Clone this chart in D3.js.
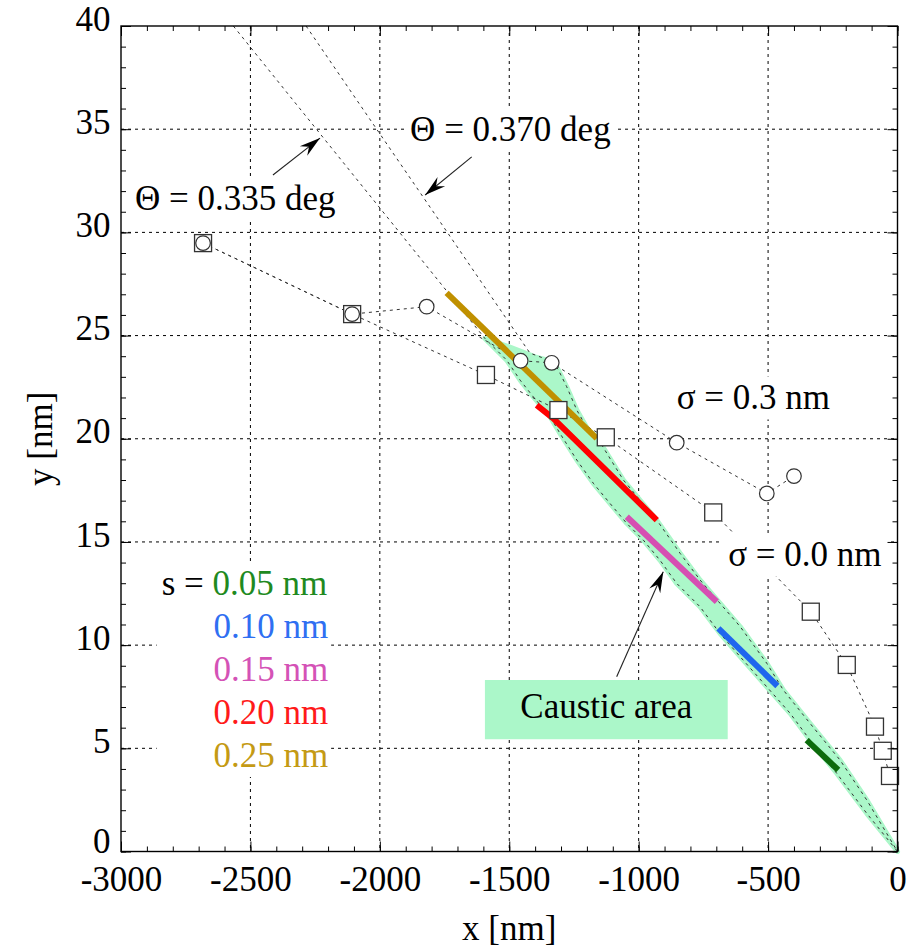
<!DOCTYPE html>
<html>
<head>
<meta charset="utf-8">
<script src="https://d3js.org/d3.v7.min.js"></script>
<style>
  body { margin: 0; background-color: #ffffff; }
</style>
</head>
<body>
<div id="chart"></div>
<script>
// ---- data ----
var xTickVals = [-3000, -2500, -2000, -1500, -1000, -500, 0];
var yTickVals = [0, 5, 10, 15, 20, 25, 30, 35, 40];

// sigma = 0.0 nm (open squares)
var sq0X = [-2683, -2107, -1590, -1310, -1127, -712, -335, -196, -87, -57, -29];
var sq0Y = [29.48, 26.04, 23.09, 21.39, 20.07, 16.43, 11.62, 9.04, 6.05, 4.88, 3.66];

// sigma = 0.3 nm (open circles)
var c3X = [-2683, -2107, -1819, -1456, -1336, -853, -505, -400];
var c3Y = [29.48, 26.04, 26.40, 23.78, 23.68, 19.81, 17.35, 18.19];

// trajectories for the two incidence angles (dashed)
var theta335 = [[-2566, 40.0], [-1594, 24.86], [-1510, 23.81], [-1458, 22.84], [-1407, 22.03], [-1342, 21.07],
  [-1304, 20.26], [-1239, 18.97], [-1175, 17.84], [-1111, 16.87], [-1046, 15.90], [-982, 15.09], [-918, 14.12],
  [-853, 12.99], [-763, 11.86], [-686, 10.57], [-608, 9.44], [-505, 7.98], [-415, 6.70], [-338, 5.40],
  [-235, 3.79], [-119, 1.85], [0, 0]];
var theta370 = [[-2285, 40.0], [-1420, 24.15], [-1330, 23.73], [-1310, 23.33], [-1278, 22.52], [-1239, 21.39],
  [-1195, 20.42], [-1162, 20.10], [-1111, 19.05], [-1059, 18.00], [-995, 17.03], [-930, 16.06], [-840, 14.45],
  [-763, 13.16], [-686, 12.03], [-608, 10.90], [-505, 9.12], [-441, 7.82], [-338, 6.21], [-222, 4.43],
  [-119, 2.50], [0, 0]];

// caustic area outline
var causticUpper = [[-1594, 24.86], [-1500, 24.45], [-1400, 23.97], [-1330, 23.73], [-1310, 23.33], [-1278, 22.52],
  [-1239, 21.39], [-1195, 20.42], [-1162, 20.10], [-1111, 19.05], [-1059, 18.00], [-995, 17.03], [-930, 16.06],
  [-840, 14.45], [-763, 13.16], [-686, 12.03], [-608, 10.90], [-505, 9.12], [-441, 7.82], [-338, 6.21],
  [-222, 4.43], [-119, 2.50], [0, 0]];
var causticLower = [[-1594, 24.86], [-1510, 23.81], [-1458, 22.84], [-1407, 22.03], [-1342, 21.07], [-1304, 20.26],
  [-1239, 18.97], [-1175, 17.84], [-1111, 16.87], [-1046, 15.90], [-982, 15.09], [-918, 14.12], [-853, 12.99],
  [-763, 11.86], [-686, 10.57], [-608, 9.44], [-505, 7.98], [-415, 6.70], [-338, 5.40], [-235, 3.79],
  [-119, 1.85], [0, 0]];

// s segments
var sLabels = ["0.05 nm", "0.10 nm", "0.15 nm", "0.20 nm", "0.25 nm"];
var sTextColors = ["#1f8a1f", "#2f6ff2", "#d452b6", "#ff1a1a", "#c49a14"];
var sLineColors = ["#0b6b0b", "#1f66ee", "#d64fb2", "#ff0000", "#c09000"];
var sSegments = [
  [[-351, 5.40], [-229, 3.95]],
  [[-692, 10.81], [-464, 8.02]],
  [[-1046, 16.22], [-698, 12.10]],
  [[-1394, 21.63], [-1330, 20.99], [-930, 16.06]],
  [[-1742, 27.07], [-1162, 20.02]]
];

// ---- chart ----
var width = 916, height = 949;
var serif = "'Liberation Serif', 'Times New Roman', Times, serif";
var svg = d3.select("#chart").append("svg")
  .attr("width", width)
  .attr("height", height)
  .attr("font-family", serif)
  .attr("font-size", 35);

var x = d3.scaleLinear().domain([-3000, 0]).range([121, 897.5]);
var y = d3.scaleLinear().domain([0, 40]).range([851.5, 26]);

var line = d3.line()
  .x(function(d) { return x(d[0]); })
  .y(function(d) { return y(d[1]); });

var defs = svg.append("defs");
defs.append("marker")
  .attr("id", "arrow")
  .attr("viewBox", "-22 -7 24 14")
  .attr("refX", 0).attr("refY", 0)
  .attr("markerWidth", 24).attr("markerHeight", 14)
  .attr("markerUnits", "userSpaceOnUse")
  .attr("orient", "auto")
  .append("path")
  .attr("d", "M0,0 L-21,-6 L-14,0 L-21,6 Z")
  .attr("fill", "#000");

// grid
var grid = svg.append("g");
grid.selectAll(".gx").data(xTickVals.slice(1, -1)).enter().append("line")
  .attr("x1", function(d) { return x(d); }).attr("x2", function(d) { return x(d); })
  .attr("y1", y(40)).attr("y2", y(0));
grid.selectAll(".gy").data(yTickVals.slice(1, -1)).enter().append("line")
  .attr("y1", function(d) { return y(d); }).attr("y2", function(d) { return y(d); })
  .attr("x1", x(-3000)).attr("x2", x(0));
grid.selectAll("line")
  .attr("stroke", "#000").attr("stroke-width", 1).attr("stroke-dasharray", "3,4");

// caustic area
svg.append("path")
  .attr("d", line(causticUpper.concat(causticLower.slice().reverse())) + "Z")
  .attr("fill", "#abf7c9")
  .attr("stroke", "#abf7c9")
  .attr("stroke-width", 5)
  .attr("stroke-linejoin", "round");

// dashed guide lines
var dashed = svg.append("g")
  .attr("fill", "none")
  .attr("stroke", "#333")
  .attr("stroke-width", 1)
  .attr("stroke-dasharray", "3,4");
dashed.append("path").attr("d", line(theta335));
dashed.append("path").attr("d", line(theta370));
dashed.append("path").attr("d", line(d3.zip(sq0X, sq0Y)));
dashed.append("path").attr("d", line(d3.zip(c3X, c3Y)));

// coloured s segments
svg.append("g").selectAll("path").data(sSegments).enter().append("path")
  .attr("d", function(d) { return line(d); })
  .attr("fill", "none")
  .attr("stroke", function(d, i) { return sLineColors[i]; })
  .attr("stroke-width", 6)
  .attr("stroke-linejoin", "round");

// markers
svg.append("g").selectAll("rect").data(d3.zip(sq0X, sq0Y)).enter().append("rect")
  .attr("x", function(d) { return x(d[0]) - 8.5; })
  .attr("y", function(d) { return y(d[1]) - 8.5; })
  .attr("width", 17).attr("height", 17)
  .attr("fill", "#fff").attr("stroke", "#333").attr("stroke-width", 1.3);
svg.append("g").selectAll("circle").data(d3.zip(c3X, c3Y)).enter().append("circle")
  .attr("cx", function(d) { return x(d[0]); })
  .attr("cy", function(d) { return y(d[1]); })
  .attr("r", 7.3)
  .attr("fill", "#fff").attr("stroke", "#333").attr("stroke-width", 1.2);

// text labels sitting on white boxes
function boxedText(px, py, str) {
  var g = svg.append("g");
  var r = g.append("rect").attr("fill", "#fff");
  var t = g.append("text").attr("x", px).attr("y", py).text(str);
  var b = t.node().getBBox();
  r.attr("x", b.x - 6).attr("y", b.y - 2).attr("width", b.width + 12).attr("height", b.height + 4);
  return g;
}
boxedText(x(-1883), y(34.45), "\u0398 = 0.370 deg");
boxedText(x(-2946), y(31.06), "\u0398 = 0.335 deg");
boxedText(x(-853), y(21.42), "\u03c3 = 0.3 nm");
boxedText(x(-654), y(13.83), "\u03c3 = 0.0 nm");

// legend
var leg = svg.append("g");
var legRect = leg.append("rect").attr("fill", "#fff");
var legText = leg.append("text").attr("x", x(-2843)).attr("y", y(12.43));
legText.append("tspan").text("s = ");
sLabels.forEach(function(s, i) {
  legText.append("tspan")
    .attr("x", i === 0 ? null : x(-2643))
    .attr("dy", i === 0 ? null : 43)
    .attr("fill", sTextColors[i])
    .text(s);
});
var lb = legText.node().getBBox();
legRect.attr("x", lb.x - 5).attr("y", lb.y - 2).attr("width", lb.width + 8).attr("height", lb.height + 4);

// caustic area box
svg.append("rect")
  .attr("x", x(-1594)).attr("y", y(8.31))
  .attr("width", x(-656) - x(-1594)).attr("height", y(5.44) - y(8.31))
  .attr("fill", "#abf7c9");
svg.append("text")
  .attr("x", x(-1125)).attr("y", y(6.47))
  .attr("text-anchor", "middle")
  .text("Caustic area");

// arrows
var arrows = [
  [[-2413, 32.78], [-2231, 34.57]],
  [[-1645, 33.66], [-1825, 31.81]],
  [[-1085, 8.47], [-905, 13.56]]
];
svg.append("g").selectAll("line").data(arrows).enter().append("line")
  .attr("x1", function(d) { return x(d[0][0]); })
  .attr("y1", function(d) { return y(d[0][1]); })
  .attr("x2", function(d) { return x(d[1][0]); })
  .attr("y2", function(d) { return y(d[1][1]); })
  .attr("stroke", "#222").attr("stroke-width", 1.1)
  .attr("marker-end", "url(#arrow)");

// axes
var fmt = function(d) { return String(d); };
var axB = svg.append("g").attr("transform", "translate(0," + y(0) + ")")
  .call(d3.axisBottom(x).tickValues(xTickVals).tickSize(-10).tickSizeOuter(0).tickPadding(14.5).tickFormat(fmt));
var axL = svg.append("g").attr("transform", "translate(" + x(-3000) + ",0)")
  .call(d3.axisLeft(y).tickValues(yTickVals).tickSize(-10).tickSizeOuter(0).tickPadding(10.5).tickFormat(fmt));
axL.selectAll("text").attr("dy", function(d) { return d === 0 ? "0.02em" : "0.12em"; });
var axT = svg.append("g").attr("transform", "translate(0," + y(40) + ")")
  .call(d3.axisTop(x).tickValues(xTickVals).tickSize(-10).tickSizeOuter(0).tickFormat(""));
var axR = svg.append("g").attr("transform", "translate(" + x(0) + ",0)")
  .call(d3.axisRight(y).tickValues(yTickVals).tickSize(-10).tickSizeOuter(0).tickFormat(""));

// minor ticks
svg.append("g").attr("transform", "translate(0," + y(0) + ")")
  .call(d3.axisBottom(x).ticks(30).tickSize(-5).tickSizeOuter(0).tickFormat(""));
svg.append("g").attr("transform", "translate(0," + y(40) + ")")
  .call(d3.axisTop(x).ticks(30).tickSize(-5).tickSizeOuter(0).tickFormat(""));
svg.append("g").attr("transform", "translate(" + x(-3000) + ",0)")
  .call(d3.axisLeft(y).ticks(40).tickSize(-5).tickSizeOuter(0).tickFormat(""));
svg.append("g").attr("transform", "translate(" + x(0) + ",0)")
  .call(d3.axisRight(y).ticks(40).tickSize(-5).tickSizeOuter(0).tickFormat(""));

// d3 axes put their own font on the group; use the serif face instead
svg.selectAll(".tick").select(function() { return this.parentNode; })
  .attr("font-family", serif).attr("font-size", 35);
svg.selectAll(".domain").remove();
svg.selectAll(".tick line").attr("stroke-width", 1);

// frame
svg.append("rect")
  .attr("x", x(-3000)).attr("y", y(40))
  .attr("width", x(0) - x(-3000)).attr("height", y(0) - y(40))
  .attr("fill", "none").attr("stroke", "#000").attr("stroke-width", 1.4);

// axis titles
svg.append("text")
  .attr("x", (x(-3000) + x(0)) / 2).attr("y", 940)
  .attr("text-anchor", "middle")
  .text("x [nm]");
svg.append("text")
  .attr("transform", "translate(52," + (y(0) + y(40)) / 2 + ") rotate(-90)")
  .attr("text-anchor", "middle")
  .text("y [nm]");
</script>
</body>
</html>
